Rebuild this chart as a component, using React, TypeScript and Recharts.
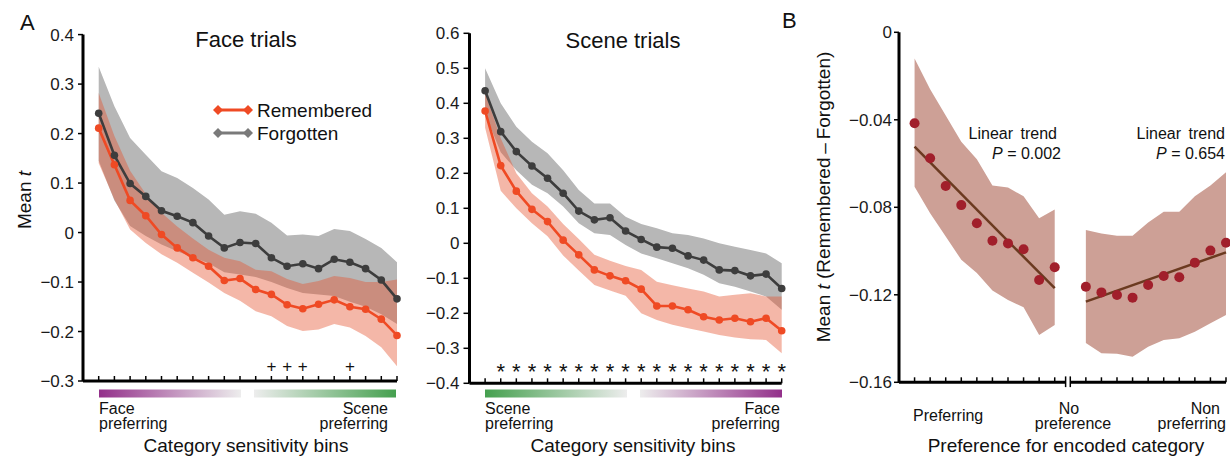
import React from 'react';
import { ComposedChart, Area, Line, Scatter, XAxis, YAxis, ReferenceLine } from 'recharts';

const FONT = '"Liberation Sans", Arial, Helvetica, sans-serif';
const RED = '#ef4a24';
const DARK = '#3d3d3d';
const GRAY_BAND = '#b7b7b7';
const RED_BAND = '#e5532f';
const B_BAND = '#cda096';
const B_DOT = '#a11f2b';
const B_TREND = '#6b3a20';

// ---- panel A: 20 category sensitivity bins ----
const bins = [1, 2, 3, 4, 5, 6, 7, 8, 9, 10, 11, 12, 13, 14, 15, 16, 17, 18, 19, 20];

const faceRem = [0.211, 0.137, 0.065, 0.034, -0.004, -0.031, -0.051, -0.068, -0.097, -0.093, -0.115, -0.125, -0.146, -0.154, -0.145, -0.136, -0.15, -0.155, -0.175, -0.208];
const faceRemLo = [0.14, 0.067, 0.006, -0.021, -0.044, -0.061, -0.081, -0.101, -0.122, -0.138, -0.159, -0.169, -0.189, -0.199, -0.196, -0.185, -0.192, -0.209, -0.232, -0.27];
const faceRemHi = [0.282, 0.195, 0.125, 0.078, 0.04, 0.012, -0.012, -0.035, -0.051, -0.058, -0.075, -0.078, -0.094, -0.104, -0.098, -0.088, -0.092, -0.1, -0.1, -0.095];
const faceForg = [0.241, 0.156, 0.099, 0.073, 0.044, 0.033, 0.02, -0.007, -0.031, -0.02, -0.022, -0.051, -0.068, -0.063, -0.073, -0.054, -0.06, -0.073, -0.096, -0.134];
const faceForgLo = [0.145, 0.065, 0.013, -0.007, -0.024, -0.038, -0.05, -0.062, -0.08, -0.085, -0.09, -0.1, -0.112, -0.122, -0.125, -0.128, -0.14, -0.15, -0.165, -0.185];
const faceForgHi = [0.335, 0.255, 0.191, 0.157, 0.124, 0.11, 0.09, 0.067, 0.036, 0.043, 0.038, 0.02, -0.006, -0.004, -0.007, 0.007, 0.003, -0.013, -0.031, -0.06];
const faceSig = [12, 13, 14, 17];

const sceneRem = [0.378, 0.222, 0.149, 0.097, 0.062, 0.009, -0.033, -0.076, -0.093, -0.107, -0.131, -0.179, -0.179, -0.19, -0.21, -0.219, -0.214, -0.224, -0.214, -0.25];
const sceneRemLo = [0.33, 0.15, 0.1, 0.057, 0.02, -0.035, -0.078, -0.119, -0.135, -0.15, -0.2, -0.219, -0.233, -0.243, -0.252, -0.262, -0.269, -0.274, -0.276, -0.314];
const sceneRemHi = [0.43, 0.3, 0.2, 0.143, 0.105, 0.055, 0.012, -0.033, -0.05, -0.065, -0.076, -0.11, -0.12, -0.129, -0.138, -0.152, -0.147, -0.143, -0.152, -0.152];
const sceneForg = [0.436, 0.319, 0.262, 0.221, 0.186, 0.143, 0.092, 0.067, 0.073, 0.035, 0.011, -0.011, -0.014, -0.036, -0.048, -0.076, -0.078, -0.093, -0.088, -0.129];
const sceneForgLo = [0.37, 0.26, 0.209, 0.167, 0.143, 0.105, 0.057, 0.029, 0.024, -0.005, -0.029, -0.043, -0.057, -0.071, -0.09, -0.114, -0.124, -0.138, -0.152, -0.19];
const sceneForgHi = [0.5, 0.4, 0.333, 0.29, 0.257, 0.209, 0.152, 0.114, 0.114, 0.076, 0.055, 0.043, 0.029, 0.024, 0.014, 0, -0.01, -0.019, -0.029, -0.057];
const sceneSig = [2, 3, 4, 5, 6, 7, 8, 9, 10, 11, 12, 13, 14, 15, 16, 17, 18, 19, 20];

const faceTicks = [-0.3, -0.2, -0.1, 0, 0.1, 0.2, 0.3, 0.4];
const sceneTicks = [-0.4, -0.3, -0.2, -0.1, 0, 0.1, 0.2, 0.3, 0.4, 0.5, 0.6];

// ---- panel B: preferring (1-10) | non-preferring (12-21) ----
const prefPos = [1, 2, 3, 4, 5, 6, 7, 8, 9, 10];
const nonPos = [12, 13, 14, 15, 16, 17, 18, 19, 20, 21];
const prefDiff = [-0.0416, -0.0576, -0.0703, -0.079, -0.0873, -0.0953, -0.0965, -0.0992, -0.1132, -0.1074];
const prefLo = [-0.0706, -0.0827, -0.0934, -0.104, -0.11, -0.118, -0.1224, -0.1257, -0.1384, -0.1338];
const prefHi = [-0.012, -0.026, -0.038, -0.05, -0.058, -0.07, -0.071, -0.075, -0.085, -0.081];
const nonDiff = [-0.1163, -0.1189, -0.1201, -0.1213, -0.1155, -0.1114, -0.112, -0.1053, -0.0998, -0.0962];
const nonLo = [-0.142, -0.1467, -0.147, -0.1483, -0.1437, -0.1407, -0.1399, -0.1369, -0.133, -0.1292];
const nonHi = [-0.0904, -0.092, -0.093, -0.093, -0.087, -0.082, -0.082, -0.075, -0.07, -0.064];
const prefTrend = [-0.0523, -0.117];
const nonTrend = [-0.1231, -0.1006];
const bTicks = [-0.16, -0.12, -0.08, -0.04, 0];

const FACE_SIG_LEVEL = -0.27;
const SCENE_SIG_LEVEL = -0.352;

const fmt = (digits: number) => (v: number) =>
  v === 0 ? '0' : (v < 0 ? '\u2212' : '') + Math.abs(v).toFixed(digits);

const buildTrial = (rem: number[], remLo: number[], remHi: number[], forg: number[], forgLo: number[], forgHi: number[]) =>
  bins.map((b, i) => ({
    bin: b,
    rem: rem[i],
    forg: forg[i],
    remBand: [remLo[i], remHi[i]],
    forgBand: [forgLo[i], forgHi[i]],
  }));

const faceData = buildTrial(faceRem, faceRemLo, faceRemHi, faceForg, faceForgLo, faceForgHi);
const sceneData = buildTrial(sceneRem, sceneRemLo, sceneRemHi, sceneForg, sceneForgLo, sceneForgHi);

const bData = [
  ...prefPos.map((p, i) => ({
    pos: p,
    bandL: [prefLo[i], prefHi[i]],
    bandR: null,
    trendL: i === 0 ? prefTrend[0] : i === prefPos.length - 1 ? prefTrend[1] : null,
    trendR: null,
  })),
  ...nonPos.map((p, i) => ({
    pos: p,
    bandL: null,
    bandR: [nonLo[i], nonHi[i]],
    trendL: null,
    trendR: i === 0 ? nonTrend[0] : i === nonPos.length - 1 ? nonTrend[1] : null,
  })),
];
const bDots = [
  ...prefPos.map((p, i) => ({ pos: p, diff: prefDiff[i] })),
  ...nonPos.map((p, i) => ({ pos: p, diff: nonDiff[i] })),
];

const markShape = (ch: string, size: number, dy: number) => (p: any) => (
  <text x={p.cx} y={p.cy} dy={dy} textAnchor="middle" fontSize={size} fontFamily={FONT} fill="#111">
    {ch}
  </text>
);

const axisLine = { stroke: '#000', strokeWidth: 3 };
const tickLine = { stroke: '#000', strokeWidth: 1.5 };
const tickStyle = { fontSize: 17, fill: '#1a1a1a', fontFamily: FONT };

interface TrialProps {
  data: ReturnType<typeof buildTrial>;
  left: number;
  width: number;
  yWidth: number;
  marginTop: number;
  marginRight: number;
  marginBottom: number;
  domain: [number, number];
  ticks: number[];
  sig: number[];
  sigLevel: number;
  sigChar: string;
  tickSize: number;
  tickMargin: number;
}

function TrialChart(p: TrialProps) {
  const marks = p.sig.map((b) => ({ bin: b, mark: p.sigLevel }));
  const star = p.sigChar === '*';
  return (
    <div style={{ position: 'absolute', left: p.left, top: 0 }}>
      <ComposedChart
        width={p.width}
        height={456}
        data={p.data}
        margin={{ top: p.marginTop, right: p.marginRight, bottom: p.marginBottom, left: 0 }}
      >
        <XAxis
          dataKey="bin"
          type="number"
          domain={[0, 20]}
          ticks={bins}
          tickSize={-5}
          tickFormatter={() => ''}
          height={30}
          axisLine={axisLine}
          tickLine={tickLine}
        />
        <YAxis
          type="number"
          domain={p.domain}
          ticks={p.ticks}
          width={p.yWidth}
          tickSize={p.tickSize}
          tickMargin={p.tickMargin}
          tickFormatter={fmt(1)}
          axisLine={axisLine}
          tickLine={tickLine}
          tick={tickStyle}
          allowDataOverflow
        />
        <Area dataKey="forgBand" stroke="none" fill={GRAY_BAND} fillOpacity={1} isAnimationActive={false} activeDot={false} />
        <Area dataKey="remBand" stroke="none" fill={RED_BAND} fillOpacity={0.42} isAnimationActive={false} activeDot={false} />
        <Line
          dataKey="forg"
          stroke={DARK}
          strokeWidth={2.6}
          dot={{ r: 3.8, fill: DARK, stroke: 'none' }}
          activeDot={false}
          isAnimationActive={false}
        />
        <Line
          dataKey="rem"
          stroke={RED}
          strokeWidth={2.6}
          dot={{ r: 3.8, fill: RED, stroke: 'none' }}
          activeDot={false}
          isAnimationActive={false}
        />
        <Scatter
          data={marks}
          dataKey="mark"
          shape={markShape(p.sigChar, star ? 22 : 17, star ? 12.5 : 5.8)}
          isAnimationActive={false}
        />
      </ComposedChart>
    </div>
  );
}

function PanelB() {
  const yMin = -0.16;
  return (
    <div style={{ position: 'absolute', left: 780, top: 0 }}>
      <ComposedChart width={450} height={456} data={bData} margin={{ top: 32.3, right: 4, bottom: 43.7, left: 0 }}>
        <XAxis
          dataKey="pos"
          type="number"
          domain={[0, 21]}
          ticks={[...prefPos, ...nonPos]}
          tickSize={-5}
          tickFormatter={() => ''}
          height={30}
          axisLine={false}
          tickLine={tickLine}
        />
        <YAxis
          type="number"
          domain={[yMin, 0]}
          ticks={bTicks}
          width={119}
          tickSize={5}
          tickMargin={2}
          tickFormatter={fmt(2)}
          axisLine={axisLine}
          tickLine={tickLine}
          tick={tickStyle}
          allowDataOverflow
        />
        <Area dataKey="bandL" stroke="none" fill={B_BAND} fillOpacity={1} isAnimationActive={false} activeDot={false} />
        <Area dataKey="bandR" stroke="none" fill={B_BAND} fillOpacity={1} isAnimationActive={false} activeDot={false} />
        <Line dataKey="trendL" stroke={B_TREND} strokeWidth={2.5} dot={false} activeDot={false} connectNulls isAnimationActive={false} />
        <Line dataKey="trendR" stroke={B_TREND} strokeWidth={2.5} dot={false} activeDot={false} connectNulls isAnimationActive={false} />
        <Scatter
          data={bDots}
          dataKey="diff"
          shape={(s: any) => <circle cx={s.cx} cy={s.cy} r={5} fill={B_DOT} />}
          isAnimationActive={false}
        />
        {/* broken x axis */}
        <ReferenceLine segment={[{ x: 0, y: yMin }, { x: 10.7, y: yMin }]} stroke="#000" strokeWidth={3} ifOverflow="visible" />
        <ReferenceLine segment={[{ x: 11.0, y: yMin }, { x: 21, y: yMin }]} stroke="#000" strokeWidth={3} ifOverflow="visible" />
        <ReferenceLine segment={[{ x: 10.7, y: -0.1573 }, { x: 10.7, y: -0.1622 }]} stroke="#000" strokeWidth={1.5} ifOverflow="visible" />
        <ReferenceLine segment={[{ x: 11.0, y: -0.1573 }, { x: 11.0, y: -0.1622 }]} stroke="#000" strokeWidth={1.5} ifOverflow="visible" />
      </ComposedChart>
    </div>
  );
}

function Overlay() {
  const t = { fontFamily: FONT, fill: '#111' } as const;
  const diamond = (cx: number, cy: number, color: string) => (
    <polygon points={`${cx - 5},${cy} ${cx},${cy - 5} ${cx + 5},${cy} ${cx},${cy + 5}`} fill={color} />
  );
  return (
    <svg width={1230} height={456} style={{ position: 'absolute', left: 0, top: 0, pointerEvents: 'none' }}>
      <defs>
        <linearGradient id="purpleToGray" x1="0" x2="1" y1="0" y2="0">
          <stop offset="0" stopColor="#93308a" />
          <stop offset="1" stopColor="#ededed" />
        </linearGradient>
        <linearGradient id="grayToGreen" x1="0" x2="1" y1="0" y2="0">
          <stop offset="0" stopColor="#ededed" />
          <stop offset="1" stopColor="#45a04f" />
        </linearGradient>
        <linearGradient id="greenToGray" x1="0" x2="1" y1="0" y2="0">
          <stop offset="0" stopColor="#45a04f" />
          <stop offset="1" stopColor="#ededed" />
        </linearGradient>
        <linearGradient id="grayToPurple" x1="0" x2="1" y1="0" y2="0">
          <stop offset="0" stopColor="#ededed" />
          <stop offset="1" stopColor="#93308a" />
        </linearGradient>
      </defs>

      <text x={20} y={30} fontSize={22} {...t}>A</text>
      <text x={782} y={28} fontSize={22} {...t}>B</text>

      <text x={246} y={47} fontSize={22} textAnchor="middle" {...t}>Face trials</text>
      <text x={623} y={48} fontSize={22} textAnchor="middle" {...t}>Scene trials</text>

      {/* legend */}
      <line x1={218} x2={248} y1={110} y2={110} stroke={RED} strokeWidth={3} />
      {diamond(218, 110, RED)}
      {diamond(248, 110, RED)}
      <text x={257} y={117} fontSize={19} {...t}>Remembered</text>
      <line x1={218} x2={248} y1={133} y2={133} stroke="#7a7a7a" strokeWidth={3} />
      {diamond(218, 133, '#7a7a7a')}
      {diamond(248, 133, '#7a7a7a')}
      <text x={257} y={140} fontSize={19} {...t}>Forgotten</text>

      {/* y labels */}
      <text x={31} y={200} fontSize={19} textAnchor="middle" transform="rotate(-90 31 200)" {...t}>
        Mean <tspan fontStyle="italic">t</tspan>
      </text>
      <text x={830} y={197} fontSize={19} textAnchor="middle" transform="rotate(-90 830 197)" {...t}>
        Mean <tspan fontStyle="italic">t</tspan> (Remembered{'\u2009\u2013\u2009'}Forgotten)
      </text>

      {/* face panel category bar */}
      <rect x={99} y={389.5} width={142} height={8} fill="url(#purpleToGray)" />
      <rect x={254} y={389.5} width={142} height={8} fill="url(#grayToGreen)" />
      <text x={99} y={414} fontSize={16} {...t}>Face</text>
      <text x={99} y={429} fontSize={16} {...t}>preferring</text>
      <text x={388} y={414} fontSize={16} textAnchor="end" {...t}>Scene</text>
      <text x={388} y={429} fontSize={16} textAnchor="end" {...t}>preferring</text>
      <text x={246} y={452} fontSize={19} textAnchor="middle" {...t}>Category sensitivity bins</text>

      {/* scene panel category bar */}
      <rect x={485} y={389.5} width={142} height={8} fill="url(#greenToGray)" />
      <rect x={640} y={389.5} width={142} height={8} fill="url(#grayToPurple)" />
      <text x={485} y={414} fontSize={16} {...t}>Scene</text>
      <text x={485} y={429} fontSize={16} {...t}>preferring</text>
      <text x={780} y={414} fontSize={16} textAnchor="end" {...t}>Face</text>
      <text x={780} y={429} fontSize={16} textAnchor="end" {...t}>preferring</text>
      <text x={633} y={452} fontSize={19} textAnchor="middle" {...t}>Category sensitivity bins</text>

      {/* panel B annotations */}
      <text x={1057} y={139} fontSize={16} textAnchor="end" wordSpacing={3} {...t}>Linear trend</text>
      <text x={1061} y={159} fontSize={16} textAnchor="end" {...t}>
        <tspan fontStyle="italic">P</tspan> = 0.002
      </text>
      <text x={1225} y={139} fontSize={16} textAnchor="end" wordSpacing={3} {...t}>Linear trend</text>
      <text x={1225} y={159} fontSize={16} textAnchor="end" {...t}>
        <tspan fontStyle="italic">P</tspan> = 0.654
      </text>
      <text x={913} y={421} fontSize={16} {...t}>Preferring</text>
      <text x={1069} y={414} fontSize={16} textAnchor="middle" {...t}>No</text>
      <text x={1073} y={429} fontSize={16} textAnchor="middle" {...t}>preference</text>
      <text x={1220} y={414} fontSize={16} textAnchor="end" {...t}>Non</text>
      <text x={1226} y={429} fontSize={16} textAnchor="end" {...t}>preferring</text>
      <text x={1066} y={452} fontSize={19} textAnchor="middle" {...t}>Preference for encoded category</text>
    </svg>
  );
}

export default function App() {
  return (
    <div style={{ position: 'absolute', left: 0, top: 0, width: 1230, height: 456, background: '#fff', overflow: 'hidden' }}>
      <TrialChart
        data={faceData}
        left={0}
        width={420}
        yWidth={83}
        marginTop={34.6}
        marginRight={23}
        marginBottom={45}
        domain={[-0.3, 0.4]}
        ticks={faceTicks}
        sig={faceSig}
        sigLevel={FACE_SIG_LEVEL}
        sigChar="+"
        tickSize={5}
        tickMargin={4}
      />
      <TrialChart
        data={sceneData}
        left={400}
        width={400}
        yWidth={69.5}
        marginTop={33.3}
        marginRight={18.3}
        marginBottom={42.7}
        domain={[-0.4, 0.6]}
        ticks={sceneTicks}
        sig={sceneSig}
        sigLevel={SCENE_SIG_LEVEL}
        sigChar="*"
        tickSize={6}
        tickMargin={4}
      />
      <PanelB />
      <Overlay />
    </div>
  );
}
